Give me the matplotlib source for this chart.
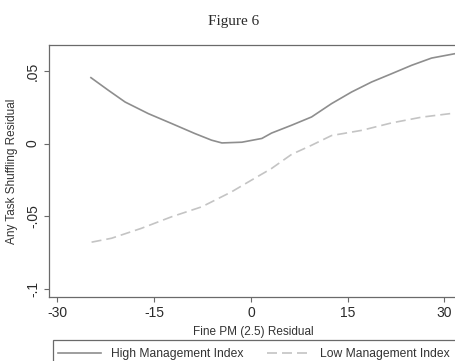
import matplotlib.pyplot as plt
from matplotlib.patches import Rectangle

# smoothed residuals, split by management index
high_x = [-24.8, -22.1, -19.5, -15.9, -12.3, -8.7, -6.1, -4.5, -1.4, 1.7, 3.2, 6.3, 9.4, 12.5, 15.6, 18.7, 21.8, 24.9, 28.0, 31.6]
high_y = [0.0454, 0.0367, 0.0286, 0.0206, 0.0138, 0.0069, 0.0023, 0.0004, 0.0009, 0.0035, 0.0072, 0.0126, 0.0183, 0.0275, 0.0355, 0.0424, 0.0481, 0.0539, 0.0589, 0.0619]

low_x = [-24.7, -21.6, -17.0, -12.3, -7.6, -3.0, 0.1, 3.2, 6.3, 9.4, 12.5, 17.2, 21.8, 26.5, 31.6]
low_y = [-0.0680, -0.0653, -0.0585, -0.0505, -0.0436, -0.0333, -0.0252, -0.0172, -0.0075, -0.0012, 0.0055, 0.0091, 0.0142, 0.0182, 0.0210]

x_ticks = [-30, -15, 0, 15, 30]
y_ticks = [-0.1, -0.05, 0, 0.05]
y_tick_labels = ['-.1', '-.05', '0', '.05']

plt.rcParams['font.family'] = ['Liberation Sans', 'DejaVu Sans']

fig = plt.figure(figsize=(4.56, 3.61), dpi=100)
ax = fig.add_axes([49 / 456, 0.1773, (458 - 49) / 456, 0.698])

ax.plot(high_x, high_y, color='#8e8e8e', lw=1.2, label='High Management Index')
ax.plot(low_x, low_y, color='#c4c4c4', lw=1.2, linestyle=(0, (6, 3)), label='Low Management Index')

ax.set_xlim(-31.3, 32.1)
ax.set_ylim(-0.1058, 0.0679)
ax.set_xticks(x_ticks)
ax.set_xticklabels([str(t) for t in x_ticks])
ax.set_yticks(y_ticks)
ax.set_yticklabels(y_tick_labels, rotation=90, va='center')

for side in ['left', 'bottom', 'top', 'right']:
    ax.spines[side].set_color('#6a6a6a')
    ax.spines[side].set_linewidth(0.9)
ax.tick_params(direction='out', length=3.5, width=0.8, color='#6a6a6a',
               labelsize=10, labelcolor='#2a2a2a', pad=3)

ax.set_xlabel('Fine PM (2.5) Residual', fontsize=8.5, color='#333333', labelpad=4)
ax.set_ylabel('Any Task Shuffling Residual', fontsize=8.5, color='#333333', labelpad=6)

fig.text(234 / 456, 1 - 22 / 361, 'Figure 6', family='Liberation Serif', fontsize=11,
         color='#2a2a2a', ha='center', va='center')

# legend box runs off the bottom/right edge, so draw the frame separately
fig.patches.append(Rectangle((53 / 456, -0.05), (480 - 53) / 456, 0.05 + 1 - 340 / 361,
                             transform=fig.transFigure, fill=False,
                             edgecolor='#6a6a6a', linewidth=0.9))
leg = fig.legend(loc='center left', bbox_to_anchor=(58 / 456, 1 - 354 / 361),
                 ncol=2, borderaxespad=0, borderpad=0, frameon=False,
                 fontsize=8.7, handlelength=3.6, handletextpad=0.75, columnspacing=2.0)
for t in leg.get_texts():
    t.set_color('#333333')

fig.savefig('out.png', dpi=100)
